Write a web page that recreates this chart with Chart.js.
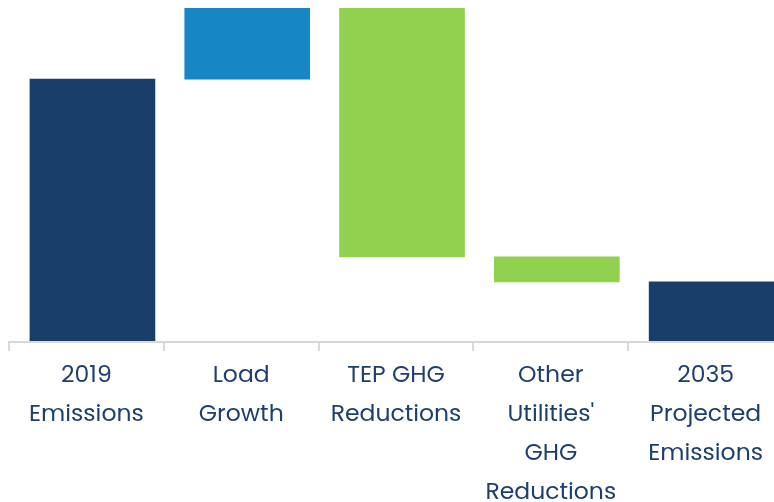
<!DOCTYPE html>
<html>
<head>
<meta charset="utf-8">
<script src="https://cdn.jsdelivr.net/npm/chart.js@4"></script>
<style>
  html, body { margin: 0; padding: 0; overflow: hidden; background: #fff; }
  #wrap { width: 784px; height: 519px; }
</style>
</head>
<body>
<div id="wrap"><canvas id="waterfall" width="784" height="519"></canvas></div>
<script>
// waterfall of emissions, floating bars [start, end]

const categories = [
    ["2019", "Emissions"],
    ["Load", "Growth"],
    ["TEP GHG", "Reductions"],
    ["Other", "Utilities'", "GHG", "Reductions"],
    ["2035", "Projected", "Emissions"]
];
const barStarts = [0, 7.87, 2.55, 1.8, 0];
const barEnds = [7.87, 10, 10, 2.55, 1.8];
const barColors = ["#193e6a", "#1786c4", "#92d050", "#92d050", "#193e6a"];

let ctx = document.getElementById('waterfall');

let Data = {
    labels: categories,
    datasets: [
        {
            label: 'Emissions',
            xAxisID: 'xb',
            data: barStarts.map((s, i) => ({ x: i, y: [s, barEnds[i]] })),
            backgroundColor: barColors,
            borderWidth: 0,
            barThickness: 125
        }
    ]
};

let Options = {
    responsive: false,
    maintainAspectRatio: false,
    animation: { duration: 0 },
    layout: { padding: { top: 8, left: 9, right: 1, bottom: 0 } },
    plugins: {
        legend: { display: false },
        tooltip: { enabled: false }
    },
    scales: {
        x: {
            type: 'category',
            labels: categories,
            offset: true,
            grid: {
                offset: true,
                drawOnChartArea: false,
                drawTicks: true,
                tickLength: 9,
                color: '#d9d9d9',
                lineWidth: 2
            },
            border: { display: true, color: '#d9d9d9', width: 2, z: 1 },
            ticks: {
                color: '#1d3f6e',
                padding: 6,
                maxRotation: 0,
                autoSkip: false,
                font: { family: 'Poppins, Lato, "Open Sans", sans-serif', size: 23.5, lineHeight: '39px' }
            }
        },
        // bars sit a little right of the label slots in the original
        xb: {
            type: 'linear',
            display: false,
            offset: false,
            min: -0.539,
            max: 4.461
        },
        y: {
            display: false,
            min: 0,
            max: 10
        }
    }
};

new Chart(ctx, {
    type: 'bar',
    data: Data,
    options: Options
});
</script>
</body>
</html>
